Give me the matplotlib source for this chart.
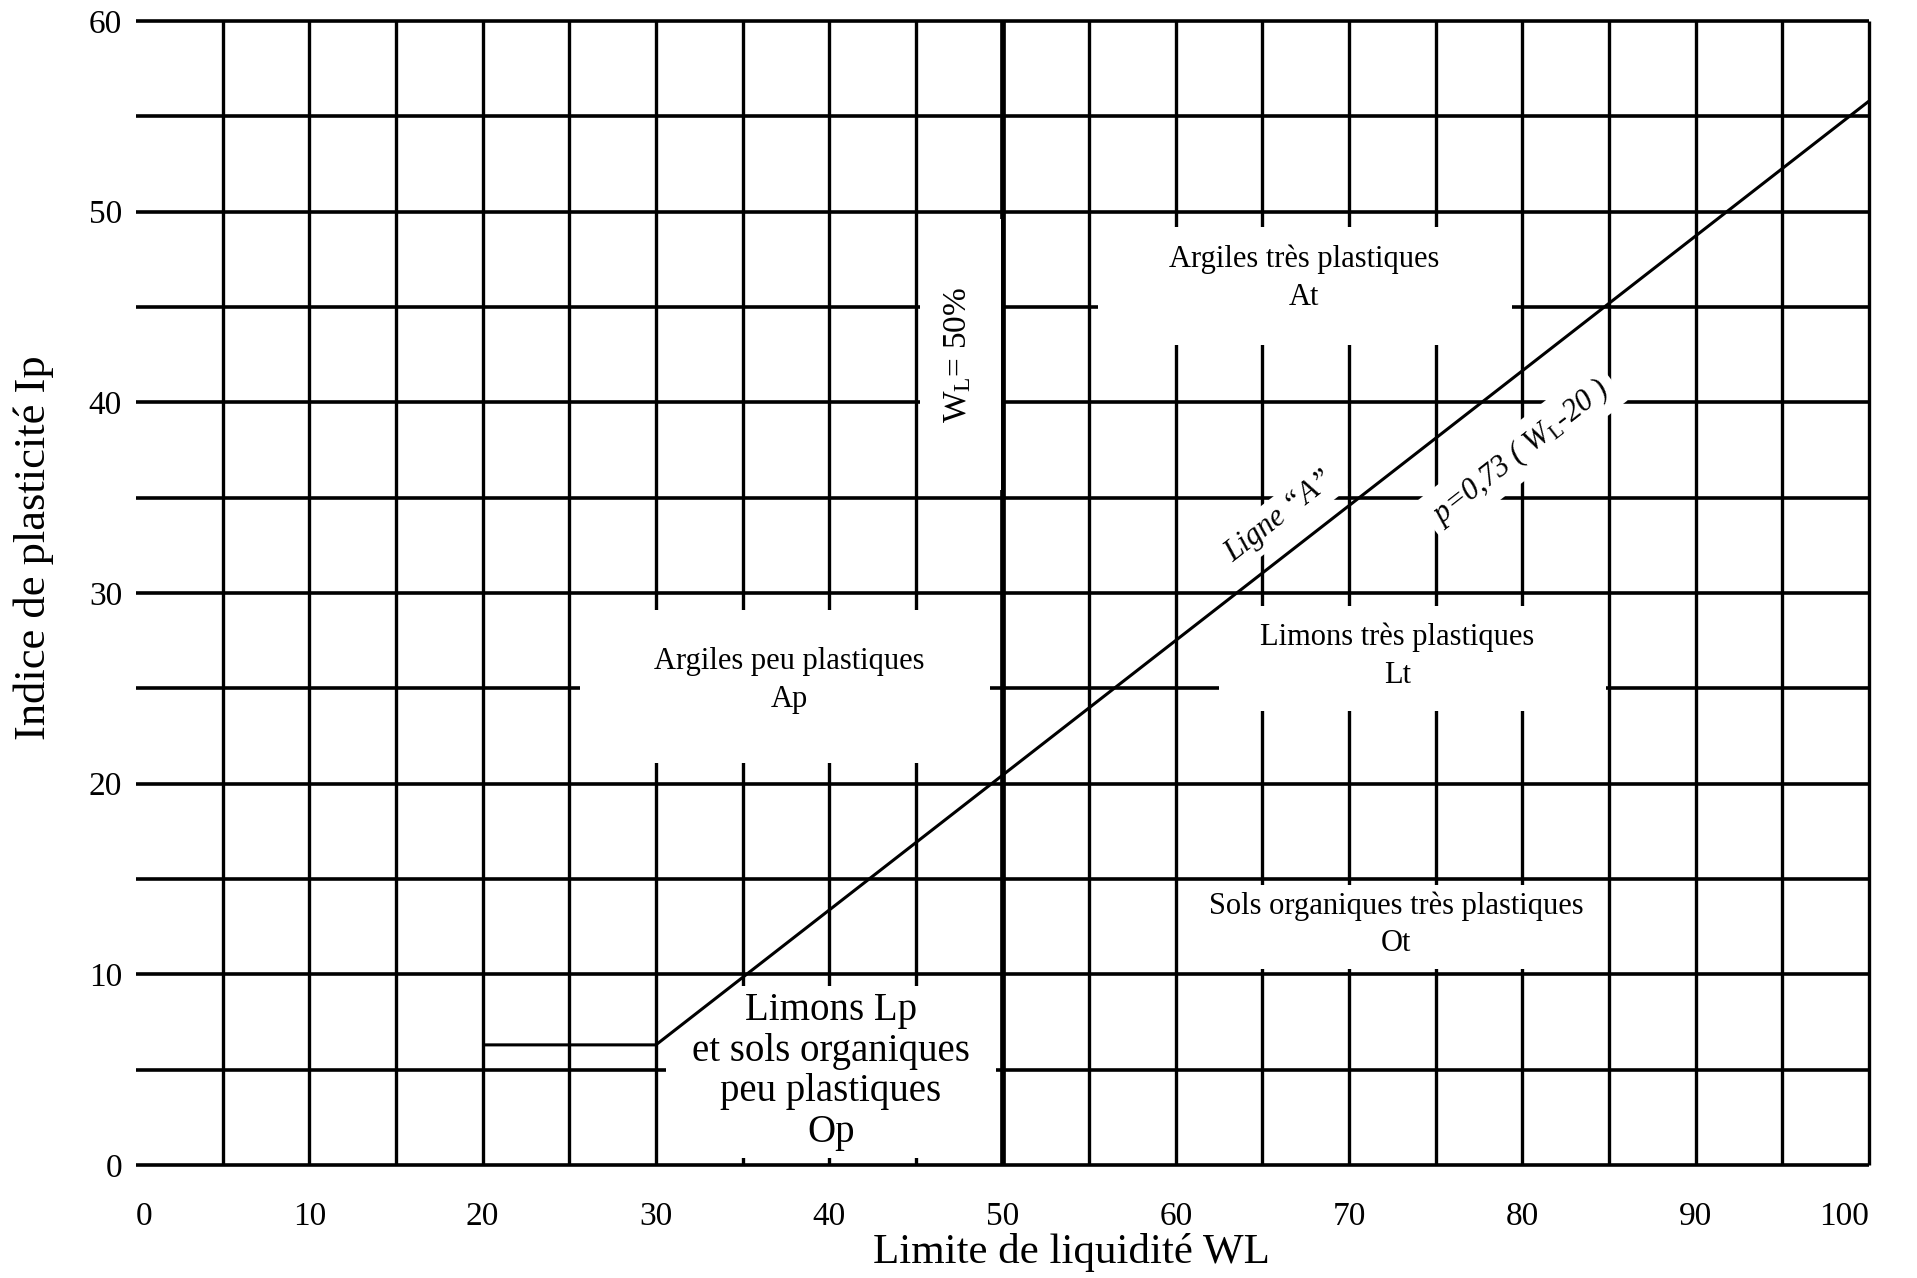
import matplotlib
matplotlib.use("Agg")
import matplotlib.pyplot as plt
from matplotlib.patches import Rectangle

plt.rcParams['font.family'] = ['Liberation Serif', 'DejaVu Serif']
plt.rcParams['mathtext.fontset'] = 'custom'
plt.rcParams['mathtext.rm'] = 'Liberation Serif'
plt.rcParams['mathtext.it'] = 'Liberation Serif:italic'

# ---- data ----
x_ticks = [0, 10, 20, 30, 40, 50, 60, 70, 80, 90, 100]
y_ticks = [0, 10, 20, 30, 40, 50, 60]
grid_x = [5, 10, 15, 20, 25, 30, 35, 40, 45, 50, 55, 60, 65, 70, 75, 80, 85, 90, 95, 100]
grid_y = [0, 5, 10, 15, 20, 25, 30, 35, 40, 45, 50, 55, 60]
a_line_wl = [20, 30, 100]
a_line_ip = [6.3, 6.3, 55.8]
wl_limit = 50

x_label = "Limite de liquidité WL"
y_label = "Indice de plasticité Ip"
zone_at = "Argiles très plastiques\nAt"
zone_ap = "Argiles peu plastiques\nAp"
zone_lt = "Limons très plastiques\nLt"
zone_ot = "Sols organiques très plastiques\nOt"
zone_op = "Limons Lp\net sols organiques\npeu plastiques\nOp"
label_wl = r"W$_{\rm L}$= 50%"
label_aline = "Ligne “A”"
label_formula = r"p=0,73 ( W$_{\rm L}$-20 )"

# ---- figure ----
W, H = 1917, 1278
fig = plt.figure(figsize=(W / 100, H / 100), dpi=100)
left, right, top, bottom = 136 / W, 1869 / W, 1 - 21 / H, 1 - 1165 / H
ax = fig.add_axes([left, bottom, right - left, top - bottom])
ax.set_xlim(0, 100)
ax.set_ylim(0, 60)
for s in ax.spines.values():
    s.set_visible(False)

# grid
for gx in grid_x:
    ax.plot([gx, gx], [0, 60], color='black', lw=4.1 if gx == wl_limit else 2.4,
            zorder=1, clip_on=False, solid_capstyle='butt')
for gy in grid_y:
    ax.plot([0, 100], [gy, gy], color='black', lw=2.6, zorder=1, clip_on=False,
            solid_capstyle='butt')

# white label areas
boxes = [
    (55.5, 43.0, 79.4, 49.2),
    (25.6, 21.1, 49.3, 29.1),
    (62.5, 23.8, 84.8, 29.3),
    (60.3, 10.3, 84.7, 14.7),
    (30.6, 0.35, 49.6, 9.4),
    (45.25, 35.4, 49.9, 49.6),
]
for x0, y0, x1, y1 in boxes:
    ax.add_patch(Rectangle((x0, y0), x1 - x0, y1 - y0, facecolor='white',
                           edgecolor='none', zorder=2))

# A line
ax.plot(a_line_wl, a_line_ip, color='black', lw=2.2, zorder=4, solid_capstyle='butt')

# ticks
ax.set_xticks(x_ticks)
ax.set_xticklabels([str(v) for v in x_ticks], fontsize=24)
ax.set_yticks(y_ticks)
ax.set_yticklabels([str(v) for v in y_ticks], fontsize=24)
ax.tick_params(axis='both', length=0)
ax.tick_params(axis='x', pad=26)
ax.tick_params(axis='y', pad=10)
xt = ax.get_xticklabels()
xt[0].set_ha('left')
xt[-1].set_ha('right')

# zone labels
ls2 = 1.4
ax.text(67.4, 46.5, zone_at, ha='center', va='center', fontsize=22, zorder=5, linespacing=ls2)
ax.text(37.7, 25.4, zone_ap, ha='center', va='center', fontsize=22, zorder=5, linespacing=ls2)
ax.text(72.8, 26.7, zone_lt, ha='center', va='center', fontsize=22, zorder=5, linespacing=ls2)
ax.text(72.7, 12.6, zone_ot, ha='center', va='center', fontsize=22, zorder=5, linespacing=ls2)
ax.text(40.1, 4.9, zone_op, ha='center', va='center', fontsize=28, zorder=5, linespacing=1.13)
ax.text(47.4, 42.5, label_wl, ha='center', va='center', fontsize=24, rotation=90, zorder=5)

ax.text(66.0, 34.0, label_aline, ha='center', va='center', fontsize=22, rotation=38,
        style='italic', zorder=3, rotation_mode='anchor',
        bbox=dict(facecolor='white', edgecolor='none', pad=4))
ax.text(79.9, 37.4, label_formula, ha='center', va='center', fontsize=22, rotation=38,
        style='italic', zorder=3, rotation_mode='anchor',
        bbox=dict(facecolor='white', edgecolor='none', pad=6))

# axis titles
fig.text(1071 / W, 1 - 1253 / H, x_label, ha='center', va='center', fontsize=31)
fig.text(34 / W, 1 - 548 / H, y_label, ha='center', va='center', fontsize=32, rotation=90)

fig.savefig("out.png", dpi=100, facecolor='white')
